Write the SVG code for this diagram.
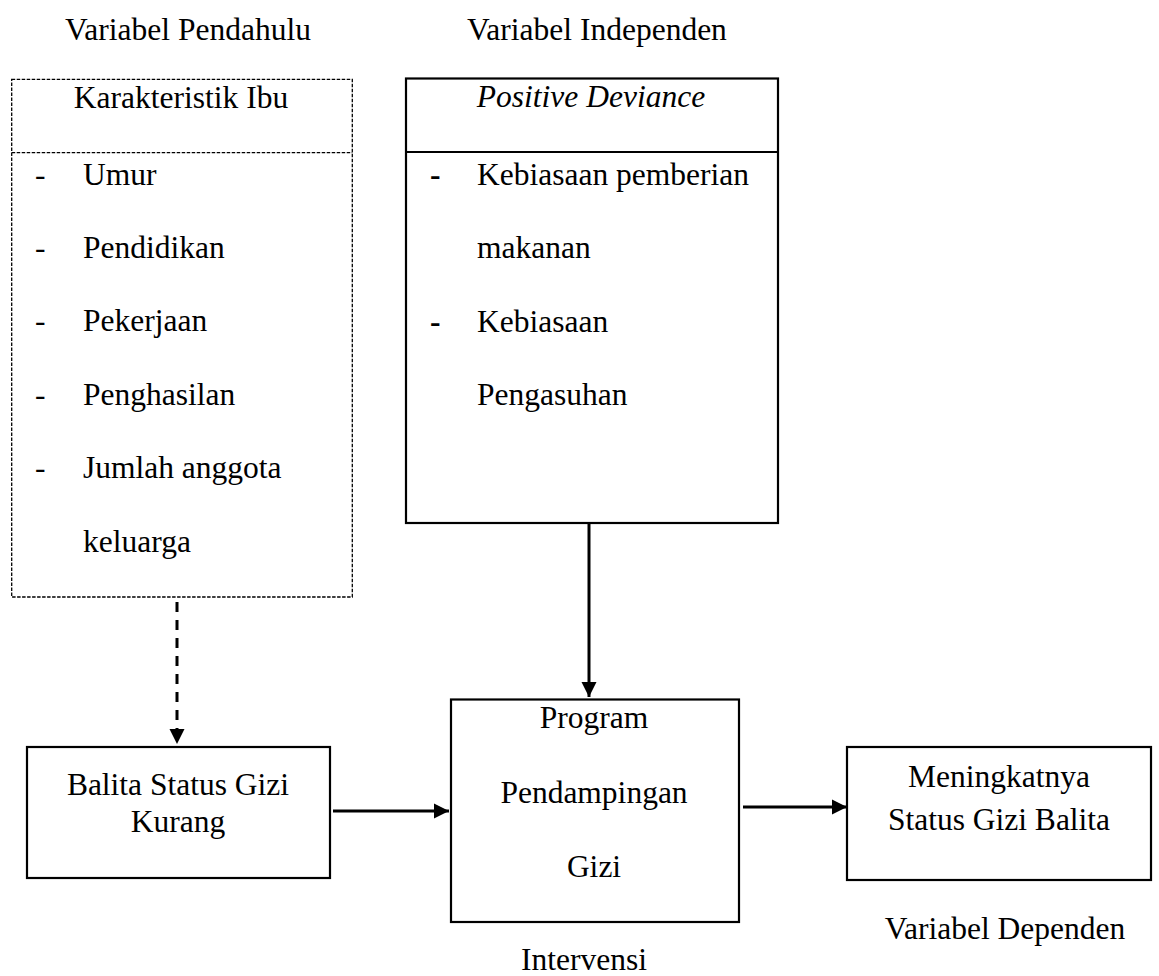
<svg xmlns="http://www.w3.org/2000/svg" width="1159" height="976" viewBox="0 0 1159 976">
<style>
text{font-family:"Liberation Serif","Times New Roman",serif;font-size:31.5px;fill:#000}
.c{text-anchor:middle}
.box{fill:#fff;stroke:#000;stroke-width:2.2}
.dbox{fill:#fff;stroke:#000;stroke-width:1.3;stroke-dasharray:3.5 1.5}
.conn{stroke:#000;stroke-width:3;fill:none}
</style>
<defs>
<marker id="ah" markerUnits="userSpaceOnUse" markerWidth="16" markerHeight="16" viewBox="0 0 16 16" refX="15" refY="8" orient="auto">
<path d="M0,0.5 L15,8 L0,15.5 z" fill="#000"/>
</marker>
</defs>
<rect width="1159" height="976" fill="#fff"/>

<g id="labels">
<text x="188" y="40" class="c">Variabel Pendahulu</text>
<text x="597" y="40" class="c">Variabel Independen</text>
<text x="584" y="970" class="c">Intervensi</text>
<text x="1005" y="939" class="c">Variabel Dependen</text>
</g>

<g id="karakteristik-ibu">
<rect class="dbox" x="11.7" y="79.3" width="340.6" height="517.7"/>
<line x1="11.7" y1="152.7" x2="352.3" y2="152.7" class="dbox"/>
<text x="181" y="108" class="c">Karakteristik Ibu</text>
<text x="35" y="185">-</text><text x="83" y="185">Umur</text>
<text x="35" y="258">-</text><text x="83" y="258">Pendidikan</text>
<text x="35" y="331">-</text><text x="83" y="331">Pekerjaan</text>
<text x="35" y="405">-</text><text x="83" y="405">Penghasilan</text>
<text x="35" y="478">-</text><text x="83" y="478">Jumlah anggota</text>
<text x="83" y="552">keluarga</text>
</g>

<g id="positive-deviance">
<rect class="box" x="406" y="78.5" width="372" height="444.5"/>
<line x1="406" y1="152" x2="778" y2="152" stroke="#000" stroke-width="2.2"/>
<text x="591" y="107" class="c" font-style="italic">Positive Deviance</text>
<text x="430" y="185" font-weight="bold">-</text><text x="477" y="185">Kebiasaan pemberian</text>
<text x="477" y="258">makanan</text>
<text x="430" y="332" font-weight="bold">-</text><text x="477" y="332">Kebiasaan</text>
<text x="477" y="405">Pengasuhan</text>
</g>

<g id="balita-status-gizi-kurang">
<rect class="box" x="27" y="747" width="303" height="131"/>
<text x="178" y="795" class="c">Balita Status Gizi</text>
<text x="178" y="832" class="c">Kurang</text>
</g>

<g id="program-pendampingan-gizi">
<rect class="box" x="451" y="699.5" width="288" height="222.5"/>
<text x="594" y="728" class="c">Program</text>
<text x="594" y="803" class="c">Pendampingan</text>
<text x="594" y="877" class="c">Gizi</text>
</g>

<g id="meningkatnya-status-gizi">
<rect class="box" x="847" y="747" width="304" height="133"/>
<text x="999" y="787" class="c">Meningkatnya</text>
<text x="999" y="830" class="c">Status Gizi Balita</text>
</g>

<g id="connectors">
<line class="conn" x1="177" y1="602" x2="177" y2="744" stroke-dasharray="10 8" marker-end="url(#ah)"/>
<line class="conn" x1="589" y1="523" x2="589" y2="697" marker-end="url(#ah)"/>
<line class="conn" x1="333" y1="811" x2="449" y2="811" marker-end="url(#ah)"/>
<line class="conn" x1="743" y1="807" x2="847" y2="807" marker-end="url(#ah)"/>
</g>
</svg>
